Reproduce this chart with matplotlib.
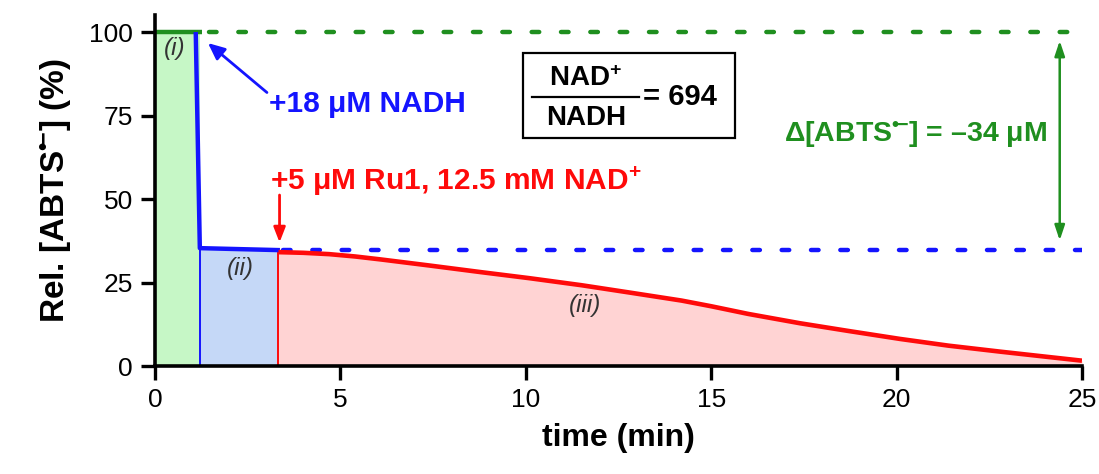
import matplotlib
matplotlib.use("Agg")
import matplotlib.pyplot as plt
from matplotlib.patches import Rectangle

plt.rcParams['font.family'] = ['Liberation Sans', 'DejaVu Sans']
plt.rcParams['mathtext.fontset'] = 'custom'
plt.rcParams['mathtext.rm'] = 'Liberation Sans'
plt.rcParams['mathtext.bf'] = 'Liberation Sans:bold'
plt.rcParams['mathtext.it'] = 'Liberation Sans:italic'

# Phase (i): initial ABTS radical level
green_t = [0.0, 1.27]
green_y = [100.0, 100.0]
# Phase (ii): after NADH addition
blue_t = [1.1, 1.21, 3.37]
blue_y = [100.0, 35.3, 34.7]
# Phase (iii): after Ru1 + NAD+ addition
red_t = [3.33, 4.0, 4.7, 5.4, 6.1, 7.4, 8.8, 10.1, 11.5, 12.8, 14.2, 15.0,
         16.0, 17.4, 18.7, 20.1, 21.4, 22.8, 24.1, 25.0]
red_y = [34.1, 33.9, 33.5, 32.8, 31.9, 30.1, 28.1, 26.3, 24.2, 22.0, 19.6,
         17.9, 15.6, 12.8, 10.5, 8.1, 6.1, 4.3, 2.7, 1.6]

x_ticks = [0, 5, 10, 15, 20, 25]
y_ticks = [0, 25, 50, 75, 100]

GREEN = '#1f8f1f'
BLUE = '#1414ff'
RED = '#ff0a0a'
LABEL_GRAY = '#333333'

RADICAL = r'$^{\mathbf{•}\!\mathbf{-}}$'

fig = plt.figure(figsize=(10.99, 4.74), dpi=100)
ax = fig.add_axes([0.141, 0.2278, 0.8435, 0.7398])
ax.set_xlim(0, 25)
ax.set_ylim(0, 105)

# shaded phases
ax.fill_between([green_t[0], blue_t[1]], [green_y[0], green_y[0]], 0,
                color='#c6f7c6', lw=0, zorder=1)
ax.fill_between([blue_t[1], red_t[0]], [blue_y[1], blue_y[2]], 0,
                color='#c5d8f7', lw=0, zorder=1)
ax.fill_between(red_t, red_y, 0, color='#ffd3d3', lw=0, zorder=1)
ax.plot([blue_t[1], blue_t[1]], [0, blue_y[1]], color=BLUE, lw=1.4, zorder=2)
ax.plot([red_t[0], red_t[0]], [0, red_y[0]], color=RED, lw=1.4, zorder=2)

# reference levels
ax.plot([1.45, 25], [green_y[0]] * 2, color=GREEN, lw=3.2,
        dashes=(1.7, 4.9), dash_capstyle='round', zorder=3)
ax.plot([3.45, 25], [blue_y[-1]] * 2, color=BLUE, lw=3.2,
        dashes=(1.7, 4.9), dash_capstyle='round', zorder=3)

# traces
ax.plot(green_t, green_y, color=GREEN, lw=3.2, zorder=4, solid_capstyle='butt')
ax.plot(blue_t, blue_y, color=BLUE, lw=3.2, zorder=4, solid_capstyle='butt')
ax.plot(red_t, red_y, color=RED, lw=3.3, zorder=4, solid_capstyle='butt')

# phase labels
ax.text(0.52, 95.0, '(i)', style='italic', fontsize=17.5, color=LABEL_GRAY,
        ha='center', va='center', zorder=5)
ax.text(2.3, 29.3, '(ii)', style='italic', fontsize=17.5, color=LABEL_GRAY,
        ha='center', va='center', zorder=5)
ax.text(11.6, 18.0, '(iii)', style='italic', fontsize=17.5, color=LABEL_GRAY,
        ha='center', va='center', zorder=5)

# additions
ax.annotate('', xy=(1.43, 96.7), xytext=(3.02, 81.9),
            arrowprops=dict(arrowstyle='-|>,head_length=1.0,head_width=0.45',
                            color=BLUE, lw=2.0, shrinkA=0, shrinkB=0), zorder=6)
ax.text(3.08, 78.6, '+18 μM NADH', color=BLUE, fontsize=21.5,
        fontweight='bold', ha='left', va='center', zorder=6)

ax.annotate('', xy=(3.36, 37.0), xytext=(3.36, 51.2),
            arrowprops=dict(arrowstyle='-|>,head_length=0.9,head_width=0.35',
                            color=RED, lw=2.0, shrinkA=0, shrinkB=0), zorder=6)
ax.text(3.1, 55.3, r'+5 μM Ru1, 12.5 mM NAD$^{\mathbf{+}}$', color=RED,
        fontsize=21.5, fontweight='bold', ha='left', va='center', zorder=6)

# ratio box
ax.add_patch(Rectangle((9.92, 68.3), 5.71, 25.4, fill=False, ec='black',
                       lw=1.6, zorder=6))
ax.text(11.62, 86.0, r'NAD$^{\mathbf{+}}$', fontsize=20, fontweight='bold',
        ha='center', va='center', zorder=7)
ax.plot([10.18, 13.05], [80.5, 80.5], color='black', lw=1.6, zorder=7)
ax.text(11.62, 74.2, 'NADH', fontsize=20, fontweight='bold',
        ha='center', va='center', zorder=7)
ax.text(13.15, 80.5, '= 694', fontsize=21, fontweight='bold',
        ha='left', va='center', zorder=7)

# overall change
ax.annotate('', xy=(24.4, 97.4), xytext=(24.4, 37.6),
            arrowprops=dict(arrowstyle='<|-|>,head_length=0.9,head_width=0.3',
                            color=GREEN, lw=1.8, shrinkA=0, shrinkB=0), zorder=6)
ax.text(24.05, 69.2, 'Δ[ABTS' + RADICAL + '] = –34 μM', color=GREEN,
        fontsize=20.5, fontweight='bold', ha='right', va='center', zorder=6)

# axes styling
for side in ('top', 'right'):
    ax.spines[side].set_visible(False)
for side in ('left', 'bottom'):
    ax.spines[side].set_linewidth(2.6)
    ax.spines[side].set_zorder(8)
ax.set_xticks(x_ticks)
ax.set_yticks(y_ticks)
ax.tick_params(direction='out', length=10, width=2.4, labelsize=19, pad=6,
               color='black')
ax.set_xlabel('time (min)', fontsize=23, fontweight='bold', labelpad=8)
ax.set_ylabel('Rel. [ABTS' + RADICAL + '] (%)', fontsize=24, fontweight='bold',
              labelpad=10)

fig.savefig('out.png', dpi=100)
